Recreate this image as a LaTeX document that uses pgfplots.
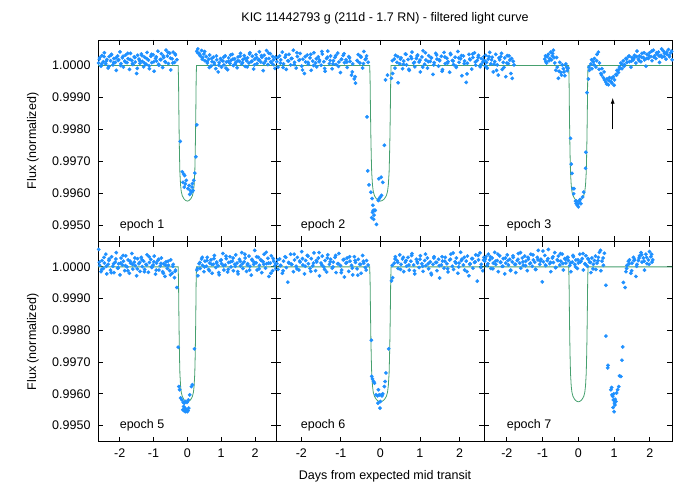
\documentclass[border=0pt]{standalone}
\usepackage{pgfplots}
\pgfplotsset{compat=1.18}
\usepackage{fontspec}
\setmainfont{Liberation Sans}
\usetikzlibrary{arrows.meta}
\definecolor{pts}{RGB}{30,144,255}
\definecolor{model}{RGB}{70,160,110}
\newcommand\lab{\fontsize{12.5}{15}\selectfont}
% flux is stored as (flux - 1) x 1e5, tick labels give the flux itself
\pgfplotsset{
  panel/.style={scale only axis, xmin=-2.64, xmax=2.62, ymin=-550, ymax=80,
    xtick={-2,-1,0,1,2}, ytick={-500,-400,-300,-200,-100,0},
    yticklabels={0.9950,0.9960,0.9970,0.9980,0.9990,1.0000},
    tick align=inside, major tick length=5pt,
    axis line style={line width=0.9pt}, every tick/.style={black, line width=0.8pt},
    tick label style={font=\lab}, /pgf/number format/assume math mode=true,
    yticklabel style={xshift=-4pt}, xticklabel style={yshift=-4pt}},
  pts/.style={only marks, mark=*, mark size=1.7pt, color=pts},
  mdl/.style={model, line width=0.8pt, no marks},
}
\newcommand\modelcurve{\addplot[mdl] coordinates {(-2.64,0) (-0.27,0) (-0.26,-50) (-0.25,-150) (-0.24,-230) (-0.23,-290) (-0.22,-335) (-0.20,-375) (-0.18,-395) (-0.15,-408) (-0.10,-418) (-0.05,-423) (0,-425) (0.05,-423) (0.10,-418) (0.15,-408) (0.18,-395) (0.20,-375) (0.22,-335) (0.23,-290) (0.24,-230) (0.25,-150) (0.26,-50) (0.27,0) (2.62,0)};}
\begin{document}
\begin{tikzpicture}
\path[use as bounding box] (0,0) rectangle (692pt,485pt);
% epoch 1
\begin{axis}[panel, at={(98pt,445pt)}, anchor=north west, width=178pt, height=201pt, xticklabels={}]
\addplot[pts] coordinates {
(-2.62,8) (-2.59,25) (-2.55,-2) (-2.52,31) (-2.48,12) (-2.45,40) (-2.41,5) (-2.38,19) (-2.34,-8) (-2.31,28)
(-2.27,15) (-2.24,35) (-2.20,2) (-2.17,22) (-2.13,10) (-2.10,-15) (-2.06,30) (-2.03,18) (-1.99,43) (-1.96,6)
(-1.92,24) (-1.89,-5) (-1.85,14) (-1.82,33) (-1.78,9) (-1.75,21) (-1.71,-12) (-1.68,38) (-1.64,16) (-1.61,3)
(-1.57,27) (-1.54,11) (-1.50,-25) (-1.47,32) (-1.43,20) (-1.40,7) (-1.36,36) (-1.33,13) (-1.29,-4) (-1.26,26)
(-1.22,4) (-1.19,41) (-1.15,17) (-1.12,-10) (-1.08,29) (-1.05,9) (-1.01,34) (-0.98,-18) (-0.94,22) (-0.91,14)
(-0.87,45) (-0.84,1) (-0.80,19) (-0.77,37) (-0.73,-6) (-0.70,25) (-0.66,12) (-0.63,48) (-0.59,30) (-0.56,6)
(-0.52,39) (-0.49,-14) (-0.45,21) (-0.42,42) (-0.38,10) (-0.35,33) (-0.31,18)
(-2.60,20) (-2.53,5) (-2.46,28) (-2.39,14) (-2.32,-3) (-2.25,33) (-2.18,9) (-2.11,24) (-2.04,16) (-1.97,0)
(-1.90,29) (-1.83,11) (-1.76,38) (-1.69,19) (-1.62,6) (-1.55,25) (-1.48,-9) (-1.41,15) (-1.34,31) (-1.27,8)
(-1.20,22) (-1.13,-1) (-1.06,35) (-0.99,12) (-0.92,27) (-0.85,4) (-0.78,18) (-0.71,30) (-0.64,10) (-0.57,41)
(-0.50,23) (-0.43,8) (-0.36,36)
(0.28,45) (0.31,52) (0.35,38) (0.38,30) (0.42,47) (0.45,25) (0.49,36) (0.52,15) (0.56,28) (0.59,8)
(0.63,20) (0.66,33) (0.70,-2) (0.73,12) (0.77,26) (0.80,4) (0.84,-10) (0.87,18) (0.91,-20) (0.94,9)
(0.98,22) (1.01,-5) (1.05,14) (1.08,2) (1.12,30) (1.15,11) (1.19,-13) (1.22,24) (1.26,7) (1.29,16)
(1.33,35) (1.36,0) (1.40,21) (1.43,10) (1.47,-7) (1.50,27) (1.54,13) (1.57,38) (1.61,5) (1.64,19)
(1.68,31) (1.71,-3) (1.75,15) (1.78,24) (1.82,8) (1.85,40) (1.89,12) (1.92,29) (1.96,-11) (1.99,20)
(2.03,34) (2.06,6) (2.10,17) (2.13,43) (2.17,11) (2.20,26) (2.24,-16) (2.27,32) (2.31,14) (2.34,47)
(2.38,3) (2.41,22) (2.45,37) (2.48,9) (2.52,28) (2.55,18) (2.59,-9) (2.62,25)
(0.30,40) (0.37,33) (0.44,20) (0.51,44) (0.58,12) (0.65,-6) (0.72,22) (0.79,10) (0.86,30) (0.93,1)
(1.00,17) (1.07,26) (1.14,-8) (1.21,13) (1.28,33) (1.35,20) (1.42,5) (1.49,15) (1.56,29) (1.63,9)
(1.70,23) (1.77,-4) (1.84,36) (1.91,14) (1.98,2) (2.05,25) (2.12,18) (2.19,31) (2.26,7) (2.33,21)
(2.40,39) (2.47,12) (2.54,3) (2.61,27)
(-0.21,-238) (0.28,-186) (0.25,-286) (0.22,-337) (-0.15,-333) (-0.11,-340) (-0.08,-345) (-0.13,-366) (-0.06,-371) (-0.03,-360)
(0.02,-386) (0.05,-376) (0.09,-392) (0.12,-397) (0.14,-381) (0.17,-392) (0.19,-360) (-0.09,-381) (0.07,-404) (0.15,-370)
};
\modelcurve
\node[anchor=west, font=\lab] at (axis cs:-2.1,-500) {epoch 1};
\end{axis}
% epoch 2
\begin{axis}[panel, at={(276pt,445pt)}, anchor=north west, width=208pt, height=201pt, xticklabels={}, yticklabels={}]
\addplot[pts] coordinates {
(-2.62,12) (-2.59,-5) (-2.55,30) (-2.52,18) (-2.48,42) (-2.45,5) (-2.41,26) (-2.38,-12) (-2.34,15) (-2.31,35)
(-2.27,2) (-2.24,22) (-2.20,48) (-2.17,10) (-2.13,-8) (-2.10,28) (-2.06,16) (-2.03,38) (-1.99,-2) (-1.96,20)
(-1.92,-25) (-1.89,11) (-1.85,33) (-1.82,4) (-1.78,24) (-1.75,-15) (-1.71,14) (-1.68,40) (-1.64,8) (-1.61,-4)
(-1.57,27) (-1.54,17) (-1.50,1) (-1.47,36) (-1.43,12) (-1.40,-18) (-1.36,22) (-1.33,45) (-1.29,6) (-1.26,30)
(-1.22,-10) (-1.19,15) (-1.15,25) (-1.12,3) (-1.08,39) (-1.05,11) (-1.01,-22) (-0.98,20) (-0.94,32) (-0.91,9)
(-0.87,18) (-0.84,-6) (-0.80,28) (-0.77,13) (-0.73,-30) (-0.70,5) (-0.66,-42) (-0.63,-55) (-0.59,16) (-0.56,34)
(-0.52,8) (-0.49,26) (-0.45,-8) (-0.42,44) (-0.38,19) (-0.35,30) (-0.31,10)
(-2.60,25) (-2.53,8) (-2.46,-6) (-2.39,33) (-2.32,14) (-2.25,22) (-2.18,3) (-2.11,40) (-2.04,18) (-1.97,-14)
(-1.90,28) (-1.83,10) (-1.76,35) (-1.69,0) (-1.62,21) (-1.55,12) (-1.48,44) (-1.41,-9) (-1.34,26) (-1.27,16)
(-1.20,5) (-1.13,31) (-1.06,-3) (-0.99,19) (-0.92,37) (-0.85,11) (-0.78,24) (-0.71,-20) (-0.64,-35) (-0.57,13)
(-0.50,29) (-0.43,6) (-0.36,22)
(0.28,-40) (0.31,-25) (0.35,20) (0.38,32) (0.42,10) (0.45,-54) (0.49,5) (0.52,24) (0.56,-10) (0.59,14)
(0.63,36) (0.66,2) (0.70,19) (0.73,-15) (0.77,28) (0.80,42) (0.84,8) (0.87,-4) (0.91,22) (0.94,33)
(0.98,11) (1.01,-20) (1.05,27) (1.08,46) (1.12,4) (1.15,17) (1.19,-8) (1.22,31) (1.26,13) (1.29,24)
(1.33,-28) (1.36,9) (1.40,38) (1.43,20) (1.47,-2) (1.50,15) (1.54,29) (1.57,-13) (1.61,41) (1.64,6)
(1.68,23) (1.71,12) (1.75,-21) (1.78,34) (1.82,16) (1.85,3) (1.89,26) (1.92,-6) (1.96,44) (1.99,10)
(2.03,21) (2.06,-32) (2.10,30) (2.13,14) (2.17,-53) (2.20,7) (2.24,35) (2.27,18) (2.31,-11) (2.34,25)
(2.38,40) (2.41,1) (2.45,16) (2.48,32) (2.52,-4) (2.55,22) (2.59,11) (2.62,28)
(0.30,15) (0.37,-8) (0.44,28) (0.51,20) (0.58,4) (0.65,35) (0.72,-12) (0.79,22) (0.86,10) (0.93,30)
(1.00,17) (1.07,-5) (1.14,40) (1.21,12) (1.28,25) (1.35,2) (1.42,33) (1.49,18) (1.56,-18) (1.63,27)
(1.70,8) (1.77,38) (1.84,14) (1.91,-2) (1.98,24) (2.05,31) (2.12,6) (2.19,-26) (2.26,20) (2.33,36)
(2.40,11) (2.47,26) (2.54,3) (2.61,17)
(-0.34,-161) (-0.32,-330) (-0.29,-374) (-0.24,-397) (-0.22,-477) (-0.21,-417) (-0.19,-438) (-0.18,-454) (-0.17,-482) (-0.15,-454)
(-0.13,-454) (-0.10,-498) (-0.16,-469) (-0.20,-460) (-0.04,-355) (0.02,-350) (0.06,-366) (-0.03,-417) (0.00,-412) (0.03,-407)
(-0.05,-423) (0.10,-250) (0.13,-45) (0.18,-30)
};
\modelcurve
\node[anchor=west, font=\lab] at (axis cs:-2.1,-500) {epoch 2};
\end{axis}
% epoch 3
\begin{axis}[panel, at={(484pt,445pt)}, anchor=north west, width=188pt, height=201pt, xticklabels={}, yticklabels={}]
\addplot[pts] coordinates {
(-2.62,15) (-2.60,-2) (-2.59,32) (-2.57,10) (-2.55,-8) (-2.52,20) (-2.50,28) (-2.48,41) (-2.45,5) (-2.43,18)
(-2.41,26) (-2.38,-20) (-2.36,4) (-2.34,12) (-2.31,35) (-2.29,-15) (-2.27,2) (-2.24,-30) (-2.22,24) (-2.20,18)
(-2.17,28) (-2.15,38) (-2.13,-12) (-2.10,10) (-2.08,-6) (-2.06,24) (-2.03,-35) (-2.00,8) (-1.99,31) (-1.96,6)
(-1.94,30) (-1.92,17) (-1.89,-25) (-1.87,22) (-1.85,-40) (-1.82,13) (-1.80,2)
(-0.94,20) (-0.92,30) (-0.91,12) (-0.89,8) (-0.87,28) (-0.84,35) (-0.82,15) (-0.80,22) (-0.77,42) (-0.75,18)
(-0.73,30) (-0.72,38) (-0.70,48) (-0.68,25) (-0.66,8) (-0.63,-15) (-0.61,25) (-0.59,-5) (-0.56,-40) (-0.54,-18)
(-0.52,10) (-0.49,-22) (-0.47,-30) (-0.45,2) (-0.42,-10) (-0.40,-20) (-0.38,-32) (-0.35,5) (-0.33,-5) (-0.31,-16)
(-0.29,-8)
(-0.22,-228) (-0.20,-309) (-0.18,-338) (-0.15,-386) (-0.12,-386) (-0.13,-402) (-0.08,-425) (-0.05,-425) (-0.01,-433) (0.03,-425)
(0.07,-433) (-0.06,-433) (0.00,-443) (-0.03,-438) (0.05,-420) (0.12,-412) (0.15,-397) (0.20,-322) (0.21,-272) (0.24,-85)
(0.28,-42) (0.31,-15) (0.35,5) (0.38,-10) (0.42,12) (0.45,22) (0.49,-5) (0.52,35) (0.56,42) (0.59,8)
(0.63,-25) (0.66,-10) (0.70,-38) (0.73,-45) (0.77,-52) (0.80,-42) (0.84,-60) (0.87,-38) (0.91,-50) (0.94,-55)
(0.98,-35) (1.01,-45) (1.05,-28) (1.08,-15) (1.12,-22) (1.15,-5) (1.19,8) (1.22,-10) (1.26,15) (1.29,3)
(1.33,22) (1.36,10) (1.40,28) (1.43,12) (1.47,-5) (1.50,25) (1.54,18) (1.57,32) (1.61,8) (1.64,45)
(1.68,20) (1.71,30) (1.75,12) (1.78,38) (1.82,25) (1.85,18) (1.89,-2) (1.92,35) (1.96,22) (1.99,40)
(2.03,28) (2.06,15) (2.10,48) (2.13,30) (2.17,22) (2.20,36) (2.24,42) (2.27,10) (2.31,32) (2.34,26)
(2.38,45) (2.41,38) (2.45,20) (2.48,35) (2.52,50) (2.55,28) (2.59,40) (2.62,18)
(0.30,-5) (0.37,18) (0.44,2) (0.51,15) (0.58,-12) (0.65,-30) (0.72,-20) (0.79,-58) (0.86,-48) (0.93,-40)
(1.00,-62) (1.07,-30) (1.14,-12) (1.21,5) (1.28,-2) (1.35,20) (1.42,30) (1.49,14) (1.56,24) (1.63,28)
(1.70,15) (1.77,26) (1.84,40) (1.91,22) (1.98,30) (2.05,45) (2.12,26) (2.19,40) (2.26,30) (2.33,52)
(2.40,28) (2.47,42) (2.54,32) (2.61,45)
};
\modelcurve
\draw[-{Latex[length=6pt,width=4pt]}, line width=0.8pt] (axis cs:0.96,-200) -- (axis cs:0.96,-101);
\node[anchor=west, font=\lab] at (axis cs:-2.1,-500) {epoch 3};
\end{axis}
% epoch 5
\begin{axis}[panel, at={(98pt,243.5pt)}, anchor=north west, width=178pt, height=200pt]
\addplot[pts] coordinates {
(-2.62,55) (-2.59,5) (-2.55,-15) (-2.52,20) (-2.48,-5) (-2.45,12) (-2.41,40) (-2.38,-22) (-2.34,8) (-2.31,25)
(-2.27,-10) (-2.24,32) (-2.20,2) (-2.17,-18) (-2.13,15) (-2.10,45) (-2.06,-4) (-2.03,10) (-1.99,-25) (-1.96,28)
(-1.92,6) (-1.89,18) (-1.85,-12) (-1.82,35) (-1.78,0) (-1.75,22) (-1.71,-20) (-1.68,12) (-1.64,42) (-1.61,-7)
(-1.57,15) (-1.54,4) (-1.50,-28) (-1.47,26) (-1.43,10) (-1.40,-14) (-1.36,30) (-1.33,1) (-1.29,18) (-1.26,-8)
(-1.22,8) (-1.19,38) (-1.15,-17) (-1.12,14) (-1.08,24) (-1.05,-2) (-1.01,6) (-0.98,34) (-0.94,-23) (-0.91,12)
(-0.87,20) (-0.84,-10) (-0.80,3) (-0.77,28) (-0.73,-15) (-0.70,10) (-0.66,-30) (-0.63,16) (-0.59,-5) (-0.56,5)
(-0.52,-12) (-0.49,22) (-0.45,-20) (-0.42,8) (-0.38,-34) (-0.35,-10) (-0.31,-65)
(-2.60,15) (-2.53,-8) (-2.46,30) (-2.39,2) (-2.32,20) (-2.25,-18) (-2.18,10) (-2.11,25) (-2.04,-3) (-1.97,12)
(-1.90,36) (-1.83,4) (-1.76,-12) (-1.69,18) (-1.62,8) (-1.55,28) (-1.48,-6) (-1.41,14) (-1.34,22) (-1.27,-15)
(-1.20,6) (-1.13,32) (-1.06,0) (-0.99,16) (-0.92,-10) (-0.85,24) (-0.78,11) (-0.71,-20) (-0.64,5) (-0.57,18)
(-0.50,-25) (-0.43,2) (-0.36,-14)
(0.28,-10) (0.31,-28) (0.35,10) (0.38,-5) (0.42,25) (0.45,5) (0.49,-15) (0.52,18) (0.56,2) (0.59,30)
(0.63,-8) (0.66,12) (0.70,22) (0.73,-20) (0.77,8) (0.80,36) (0.84,-2) (0.87,15) (0.91,4) (0.94,-25)
(0.98,20) (1.01,10) (1.05,42) (1.08,-10) (1.12,6) (1.15,26) (1.19,-16) (1.22,14) (1.26,32) (1.29,0)
(1.33,18) (1.36,-12) (1.40,8) (1.43,38) (1.47,12) (1.50,-22) (1.54,24) (1.57,3) (1.61,45) (1.64,-5)
(1.68,16) (1.71,28) (1.75,-14) (1.78,10) (1.82,34) (1.85,2) (1.89,-26) (1.92,20) (1.96,8) (1.99,52)
(2.03,13) (2.06,-10) (2.10,30) (2.13,5) (2.17,22) (2.20,-18) (2.24,16) (2.27,40) (2.31,-4) (2.34,10)
(2.38,27) (2.41,-30) (2.45,12) (2.48,35) (2.52,-12) (2.55,18) (2.59,4) (2.62,-6)
(0.30,-5) (0.37,14) (0.44,30) (0.51,0) (0.58,20) (0.65,-12) (0.72,8) (0.79,26) (0.86,12) (0.93,-18)
(1.00,22) (1.07,4) (1.14,34) (1.21,-8) (1.28,16) (1.35,28) (1.42,2) (1.49,-15) (1.56,18) (1.63,10)
(1.70,40) (1.77,6) (1.84,-10) (1.91,24) (1.98,14) (2.05,32) (2.12,-6) (2.19,20) (2.26,8) (2.33,46)
(2.40,12) (2.47,-20) (2.54,26) (2.61,10)
(-0.27,-253) (0.21,-258) (-0.25,-377) (-0.23,-387) (-0.20,-413) (-0.16,-419) (-0.12,-427) (-0.09,-429) (-0.05,-424) (-0.01,-427)
(0.03,-419) (0.07,-403) (0.12,-377) (0.15,-371) (-0.13,-450) (-0.10,-453) (-0.06,-456) (-0.02,-450) (0.02,-453) (-0.11,-440)
(-0.07,-445) (0.00,-456) (0.04,-445)
};
\modelcurve
\node[anchor=west, font=\lab] at (axis cs:-2.1,-500) {epoch 5};
\end{axis}
% epoch 6
\begin{axis}[panel, at={(276pt,243.5pt)}, anchor=north west, width=208pt, height=200pt, yticklabels={}]
\addplot[pts] coordinates {
(-2.62,10) (-2.59,-8) (-2.55,25) (-2.52,5) (-2.48,-20) (-2.45,18) (-2.41,32) (-2.38,-2) (-2.34,-48) (-2.31,12)
(-2.27,40) (-2.24,8) (-2.20,-15) (-2.17,22) (-2.13,2) (-2.10,30) (-2.06,-10) (-2.03,15) (-1.99,48) (-1.96,6)
(-1.92,-22) (-1.89,20) (-1.85,36) (-1.82,10) (-1.78,-5) (-1.75,26) (-1.71,3) (-1.68,44) (-1.64,-12) (-1.61,16)
(-1.57,28) (-1.54,-28) (-1.50,12) (-1.47,34) (-1.43,0) (-1.40,20) (-1.36,-16) (-1.33,38) (-1.29,8) (-1.26,24)
(-1.22,-4) (-1.19,15) (-1.15,30) (-1.12,-18) (-1.08,10) (-1.05,42) (-1.01,4) (-0.98,-10) (-0.94,22) (-0.91,-32)
(-0.87,12) (-0.84,28) (-0.80,-14) (-0.77,18) (-0.73,5) (-0.70,-25) (-0.66,32) (-0.63,14) (-0.59,-6) (-0.56,24)
(-0.52,8) (-0.49,-20) (-0.45,36) (-0.42,12) (-0.38,-2) (-0.35,20) (-0.31,6)
(-2.60,22) (-2.53,4) (-2.46,-12) (-2.39,30) (-2.32,14) (-2.25,8) (-2.18,40) (-2.11,-6) (-2.04,18) (-1.97,26)
(-1.90,2) (-1.83,34) (-1.76,-14) (-1.69,12) (-1.62,20) (-1.55,45) (-1.48,6) (-1.41,-8) (-1.34,28) (-1.27,16)
(-1.20,0) (-1.13,36) (-1.06,10) (-0.99,-18) (-0.92,24) (-0.85,14) (-0.78,32) (-0.71,-4) (-0.64,20) (-0.57,-26)
(-0.50,8) (-0.43,18) (-0.36,-10)
(0.28,-44) (0.31,-34) (0.35,12) (0.38,32) (0.42,20) (0.45,-5) (0.49,38) (0.52,8) (0.56,25) (0.59,-15)
(0.63,15) (0.66,2) (0.70,30) (0.73,-10) (0.77,18) (0.80,42) (0.84,6) (0.87,-22) (0.91,24) (0.94,12)
(0.98,-2) (1.01,35) (1.05,10) (1.08,-14) (1.12,20) (1.15,4) (1.19,28) (1.22,-6) (1.26,16) (1.29,-25)
(1.33,8) (1.36,32) (1.40,14) (1.43,-12) (1.47,24) (1.50,-35) (1.54,6) (1.57,18) (1.61,-4) (1.64,30)
(1.68,10) (1.71,-16) (1.75,22) (1.78,40) (1.82,2) (1.85,-8) (1.89,16) (1.92,28) (1.96,-20) (1.99,12)
(2.03,46) (2.06,24) (2.10,6) (2.13,-10) (2.17,18) (2.20,34) (2.24,-28) (2.27,10) (2.31,26) (2.34,-4)
(2.38,14) (2.41,38) (2.45,-45) (2.48,22) (2.52,44) (2.55,8) (2.59,-12) (2.62,30)
(0.30,5) (0.37,25) (0.44,14) (0.51,-8) (0.58,30) (0.65,20) (0.72,6) (0.79,36) (0.86,-12) (0.93,16)
(1.00,24) (1.07,2) (1.14,40) (1.21,10) (1.28,-20) (1.35,28) (1.42,14) (1.49,4) (1.56,32) (1.63,18)
(1.70,-6) (1.77,24) (1.84,44) (1.91,12) (1.98,0) (2.05,20) (2.12,30) (2.19,-15) (2.26,8) (2.33,26)
(2.40,16) (2.47,36) (2.54,-2) (2.61,22)
(-0.23,-231) (0.21,-258) (-0.22,-345) (-0.20,-353) (-0.17,-361) (-0.15,-366) (-0.11,-403) (-0.07,-406) (-0.05,-387) (-0.03,-403)
(0.00,-424) (-0.01,-445) (-0.06,-429) (0.02,-403) (0.06,-400) (0.10,-377) (0.12,-361) (0.14,-334) (0.04,-406)
};
\modelcurve
\node[anchor=west, font=\lab] at (axis cs:-2.1,-500) {epoch 6};
\end{axis}
% epoch 7
\begin{axis}[panel, at={(484pt,243.5pt)}, anchor=north west, width=188pt, height=200pt, yticklabels={}]
\addplot[pts] coordinates {
(-2.62,18) (-2.59,32) (-2.55,5) (-2.52,40) (-2.48,22) (-2.45,-5) (-2.41,28) (-2.38,12) (-2.34,46) (-2.31,8)
(-2.27,20) (-2.24,-15) (-2.20,35) (-2.17,15) (-2.13,2) (-2.10,26) (-2.06,-22) (-2.03,12) (-1.99,38) (-1.96,6)
(-1.92,24) (-1.89,-10) (-1.85,16) (-1.82,30) (-1.78,8) (-1.75,-18) (-1.71,20) (-1.68,42) (-1.64,12) (-1.61,-4)
(-1.57,28) (-1.54,5) (-1.50,34) (-1.47,18) (-1.43,-12) (-1.40,24) (-1.36,10) (-1.33,40) (-1.29,2) (-1.26,22)
(-1.22,15) (-1.19,-8) (-1.15,30) (-1.12,52) (-1.08,8) (-1.05,24) (-1.01,-47) (-0.98,16) (-0.94,36) (-0.91,4)
(-0.87,20) (-0.84,55) (-0.80,10) (-0.77,-15) (-0.73,28) (-0.70,14) (-0.66,45) (-0.63,-2) (-0.59,22) (-0.56,34)
(-0.52,6) (-0.49,18) (-0.45,40) (-0.42,-10) (-0.38,26) (-0.35,12) (-0.31,30)
(-0.28,20) (-0.24,4) (-0.21,-15) (-0.17,15) (-0.14,32) (-0.10,8) (-0.07,22) (-0.03,-5) (0.00,12) (0.04,40)
(0.07,18) (0.11,26) (0.14,-10) (0.18,10) (0.21,35) (0.25,2) (0.28,24) (0.31,15) (0.35,-18) (0.38,28)
(0.42,8) (0.45,20) (0.49,-8) (0.52,12) (0.56,30) (0.59,46) (0.63,-12) (0.66,18) (0.70,5) (0.73,43)
(-2.60,25) (-2.53,10) (-2.46,32) (-2.39,-6) (-2.32,18) (-2.25,40) (-2.18,14) (-2.11,2) (-2.04,28) (-1.97,20)
(-1.90,-12) (-1.83,35) (-1.76,8) (-1.69,24) (-1.62,45) (-1.55,16) (-1.48,4) (-1.41,30) (-1.34,12) (-1.27,38)
(-1.20,-8) (-1.13,22) (-1.06,18) (-0.99,50) (-0.92,6) (-0.85,26) (-0.78,14) (-0.71,32) (-0.64,-2) (-0.57,20)
(-0.50,42) (-0.43,10) (-0.36,24) (-0.29,30) (-0.22,12) (-0.15,36) (-0.08,0) (-0.01,22) (0.06,16) (0.13,42)
(0.20,8) (0.27,26) (0.34,14) (0.41,-6) (0.48,34) (0.55,20) (0.62,52) (0.69,28)
(0.77,-58) (0.77,-218) (0.82,-318) (0.83,-310) (0.91,-387) (0.93,-380) (0.94,-403) (0.96,-408) (0.98,-419) (1.00,-456)
(1.01,-429) (1.03,-417) (1.05,-424) (1.07,-397) (1.10,-387) (1.13,-377) (1.15,-343) (1.19,-345) (1.22,-294) (1.24,-252)
(1.26,-49) (1.31,-65) (0.97,-443) (1.02,-435) (0.99,-400)
(1.33,-15) (1.36,5) (1.40,18) (1.43,22) (1.47,-20) (1.50,12) (1.54,30) (1.57,24) (1.61,-30) (1.64,8)
(1.68,20) (1.71,35) (1.75,45) (1.78,15) (1.82,28) (1.85,-10) (1.89,40) (1.92,10) (1.96,22) (1.99,48)
(2.03,32) (2.06,15)
(1.35,-5) (1.42,10) (1.49,-12) (1.56,20) (1.63,2) (1.70,28) (1.77,38) (1.84,18) (1.91,30) (1.98,8)
(2.05,40) (2.08,22)
};
\modelcurve
\node[anchor=west, font=\lab] at (axis cs:-2.1,-500) {epoch 7};
\end{axis}
\node[font=\lab] at (385pt,467pt) {KIC 11442793 g (211d - 1.7 RN) - filtered light curve};
\node[font=\lab] at (385pt,9pt) {Days from expected mid transit};
\node[font=\lab, rotate=90] at (33pt,344pt) {Flux (normalized)};
\node[font=\lab, rotate=90] at (33pt,143pt) {Flux (normalized)};
\end{tikzpicture}
\end{document}
